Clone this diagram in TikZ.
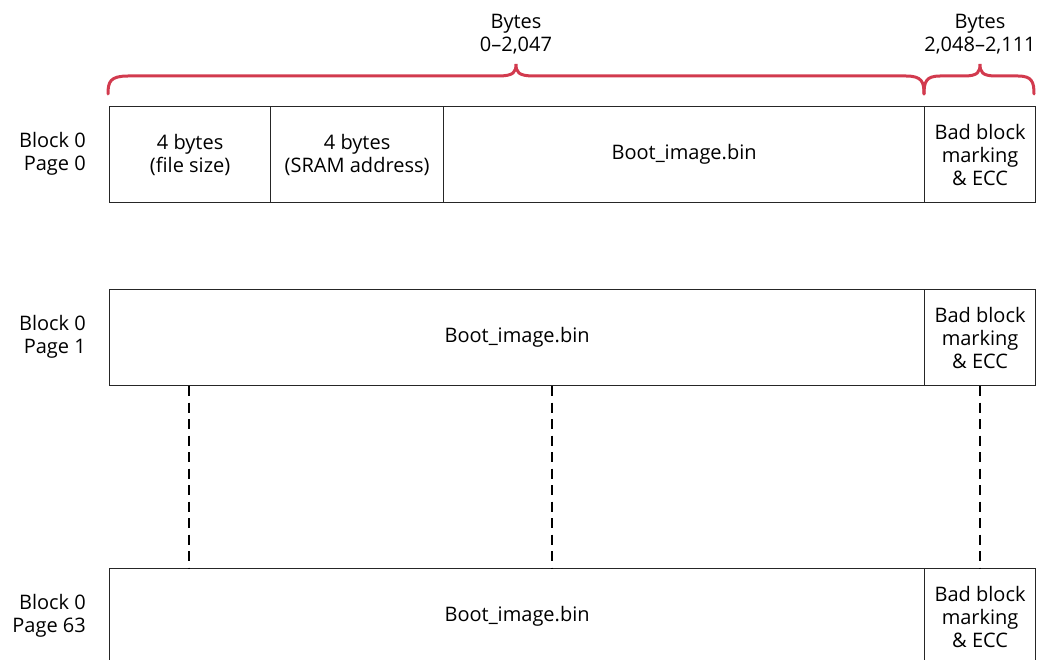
\documentclass[tikz,border=0pt]{standalone}
\usepackage{fontspec}
\setmainfont{Open Sans}
\definecolor{bracered}{HTML}{D23A4E}
\begin{document}
\begin{tikzpicture}[x=1pt,y=-1pt,
  cell/.style={draw=black!85,line width=1.2pt,minimum height=96pt,inner sep=0pt,align=center,anchor=north west,font=\fontsize{20}{23}\selectfont},
  lbl/.style={align=right,anchor=east,inner sep=0pt,font=\fontsize{20}{23}\selectfont},
  top/.style={align=center,font=\fontsize{20}{23}\selectfont},
  brace/.style={draw=bracered,line width=3pt,line cap=round},
  dots/.style={draw=black,line width=2.4pt,dash pattern=on 10pt off 6.5pt}]
\useasboundingbox (0,0) rectangle (1039,660);
% row page 0
\node[cell,minimum width=161pt] (a1) at (109,106) {4 bytes\\(file size)};
\node[cell,minimum width=173pt] (a2) at (270,106) {4 bytes\\(SRAM address)};
\node[cell,minimum width=481pt] (a3) at (443,106) {Boot\_image.bin};
\node[cell,minimum width=111pt] (a4) at (924,106) {Bad block\\marking\\\& ECC};
\node[lbl] (la) at (86,154) {Block 0\\Page 0};
% row page 1
\node[cell,minimum width=815pt] (b1) at (109,289) {Boot\_image.bin};
\node[cell,minimum width=111pt] (b2) at (924,289) {Bad block\\marking\\\& ECC};
\node[lbl] (lb) at (86,337) {Block 0\\Page 1};
% row page 63
\node[cell,minimum width=815pt] (c1) at (109,568) {Boot\_image.bin};
\node[cell,minimum width=111pt] (c2) at (924,568) {Bad block\\marking\\\& ECC};
\node[lbl] (lc) at (86,616) {Block 0\\Page 63};
% headers
\node[top] (h1) at (516,34) {Bytes\\0--2,047};
\node[top] (h2) at (980,34) {Bytes\\2,048--2,111};
% braces
\draw[brace] (108,94) .. controls (108,82) and (110,76) .. (128,76) -- (498,76) .. controls (514,76) and (516,72) .. (516,64) .. controls (516,72) and (518,76) .. (534,76) -- (906,76) .. controls (922,76) and (924,82) .. (924,94);
\draw[brace] (924,94) .. controls (924,82) and (926,76) .. (940,76) -- (964,76) .. controls (978,76) and (980,72) .. (980,64) .. controls (980,72) and (982,76) .. (996,76) -- (1018,76) .. controls (1032,76) and (1034,82) .. (1034,94);
% dashed continuation
\coordinate (d1) at (189,0);
\coordinate (d2) at (552,0);
\coordinate (d3) at (980,0);
\draw[dots] (b1.south -| d1) -- (c1.north -| d1);
\draw[dots] (b1.south -| d2) -- (c1.north -| d2);
\draw[dots] (b2.south -| d3) -- (c2.north -| d3);
\end{tikzpicture}
\end{document}
